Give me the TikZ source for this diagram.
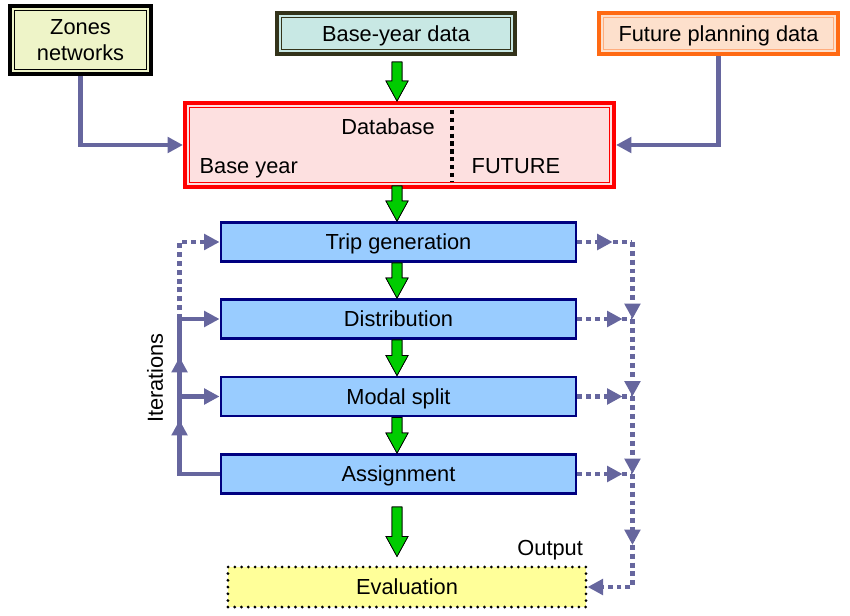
\documentclass[tikz,border=0pt]{standalone}
\usepackage{fontspec}
\setmainfont{Liberation Sans}
\usetikzlibrary{arrows.meta, calc, decorations.markings, positioning}
\definecolor{zonefill}{HTML}{EEF4C8}
\definecolor{basefill}{HTML}{C8E8E4}
\definecolor{baseline}{HTML}{33331A}
\definecolor{futurefill}{HTML}{FDE0CC}
\definecolor{futureline}{HTML}{FF6A13}
\definecolor{dbfill}{HTML}{FDE0E0}
\definecolor{stagefill}{HTML}{99CCFF}
\definecolor{stageline}{HTML}{000080}
\definecolor{evalfill}{HTML}{FFFF99}
\definecolor{slate}{HTML}{66669E}
\definecolor{arrowgreen}{HTML}{00CC00}

\begin{document}
\begin{tikzpicture}[x=0.025cm, y=-0.025cm, font=\fontsize{15.5}{19}\selectfont,
    box/.style={draw, minimum width=#1, inner sep=0pt, align=center, text depth=0pt},
    framed/.style={line width=2.8pt, path picture={\draw[line width=0.7pt, #1]
        ($(path picture bounding box.north west)+(3.2pt,-3.2pt)$) rectangle
        ($(path picture bounding box.south east)+(-3.2pt,3.2pt)$);}},
    stage/.style={box=8.875cm, minimum height=0.975cm, fill=stagefill, draw=stageline, line width=2pt},
    flow/.style={draw=slate, line width=3.5pt},
    flowdot/.style={flow, dash pattern=on 3.5pt off 2.8pt},
    tip/.style={-{Triangle[length=11pt, width=11pt]}},
    mid/.style={postaction={decorate}, decoration={markings,
        mark=at position #1 with {\arrow{Triangle[length=11pt, width=11pt]}}}},
    lbl/.style={inner sep=1pt}]
  \useasboundingbox (0,0) rectangle (850,616);

  % input boxes
  \node[box=3.525cm, minimum height=1.7cm, fill=zonefill, framed=black] (zones) at (80.5,40) {Zones\\networks};
  \node[box=5.95cm, minimum height=1.025cm, fill=basefill, draw=baseline, framed=baseline] (base) at (396,33.5) {Base-year data};
  \node[box=5.975cm, minimum height=1.025cm, fill=futurefill, draw=futureline, framed=futureline!55] (future) at (718.5,33.5) {Future planning data};

  % database
  \node[box=10.725cm, minimum height=2.1cm, fill=dbfill, draw=red, framed=red] (db) at (399.5,145) {};
  \node[lbl] (dbname) at (388,127) {Database};
  \node[lbl, anchor=west] (dbbase) at (198,168) {Base year};
  \node[lbl, anchor=west] (dbfuture) at (470,166) {FUTURE};
  \coordinate (splittop) at (452,110);
  \coordinate (splitbot) at (452,181);
  \draw[line width=3pt, dash pattern=on 3pt off 2.6pt] (splittop) -- (splitbot);

  % model stages
  \node[stage] (trip) at (398.5,242) {Trip generation};
  \node[stage] (dist) at (398.5,319) {Distribution};
  \node[stage] (modal) at (398.5,396.5) {Modal split};
  \node[stage] (assign) at (398.5,474) {Assignment};
  \node[box=8.95cm, minimum height=1cm, fill=evalfill, draw=black, line width=2.2pt,
        dash pattern=on 0pt off 4.8pt, line cap=round] (eval) at (407,587) {Evaluation};
  \node[lbl, anchor=south east] (out) at ($(eval.north east)+(-3,-4)$) {Output};
  \node[lbl, rotate=90] (iter) at (155,378) {Iterations};

  % data inputs
  \draw[flow, tip] (zones.south) |- (db.west);
  \draw[flow, tip] (future.south) |- (db.east);

  % green block arrows
  \coordinate (gx) at (397,0);
  \foreach \a/\b/\s/\e in {base/db/6/0, db/trip/-3/0, trip/dist/0/0, dist/modal/0/0, modal/assign/0/0, assign/eval/12/-9}{
    \coordinate (gt) at ($(gx |- \a.south)+(0,\s)$);
    \coordinate (gb) at ($(gx |- \b.north)+(0,\e)$);
    \foreach \col/\off in {black/3, arrowgreen/0}
      \filldraw[fill=\col, draw=black, line width=0.5pt, shift={(\off,-\off)}]
        ($(gt)+(-5,0)$) -- ($(gb)+(-5,-20)$) -- ($(gb)+(-11,-20)$) -- (gb)
        -- ($(gb)+(11,-20)$) -- ($(gb)+(5,-20)$) -- ($(gt)+(5,0)$) -- cycle;
  }

  % iterations (left)
  \coordinate (ia) at ($(assign.west)+(-40,0)$);
  \coordinate (im) at (ia |- modal.west);
  \coordinate (id) at (ia |- dist.west);
  \coordinate (it) at (ia |- trip.west);
  \draw[flow, mid=0.8] (assign.west) -- (ia) -- (im);
  \draw[flow, mid=0.51] (im) -- (id);
  \draw[flow, tip] (im) -- (modal.west);
  \draw[flow, tip] (id) -- (dist.west);
  \draw[flowdot, tip] (id) -- (it) -- (trip.west);

  % outputs (right)
  \coordinate (ra) at ($(trip.east)+(55,0)$);
  \coordinate (rd) at (ra |- dist.east);
  \coordinate (rm) at (ra |- modal.east);
  \coordinate (rs) at (ra |- assign.east);
  \coordinate (re) at (ra |- eval.east);
  \draw[flowdot, mid=0.64] (trip.east) -- (ra);
  \foreach \n/\c in {dist/rd, modal/rm, assign/rs}
    \draw[flowdot, mid=0.82] (\n.east) -- (\c);
  \foreach \u/\v in {ra/rd, rd/rm, rm/rs}
    \draw[flowdot, tip] (\u) -- (\v);
  \draw[flowdot, mid=0.45, tip] (rs) -- (re) -- (eval.east);
\end{tikzpicture}
\end{document}
